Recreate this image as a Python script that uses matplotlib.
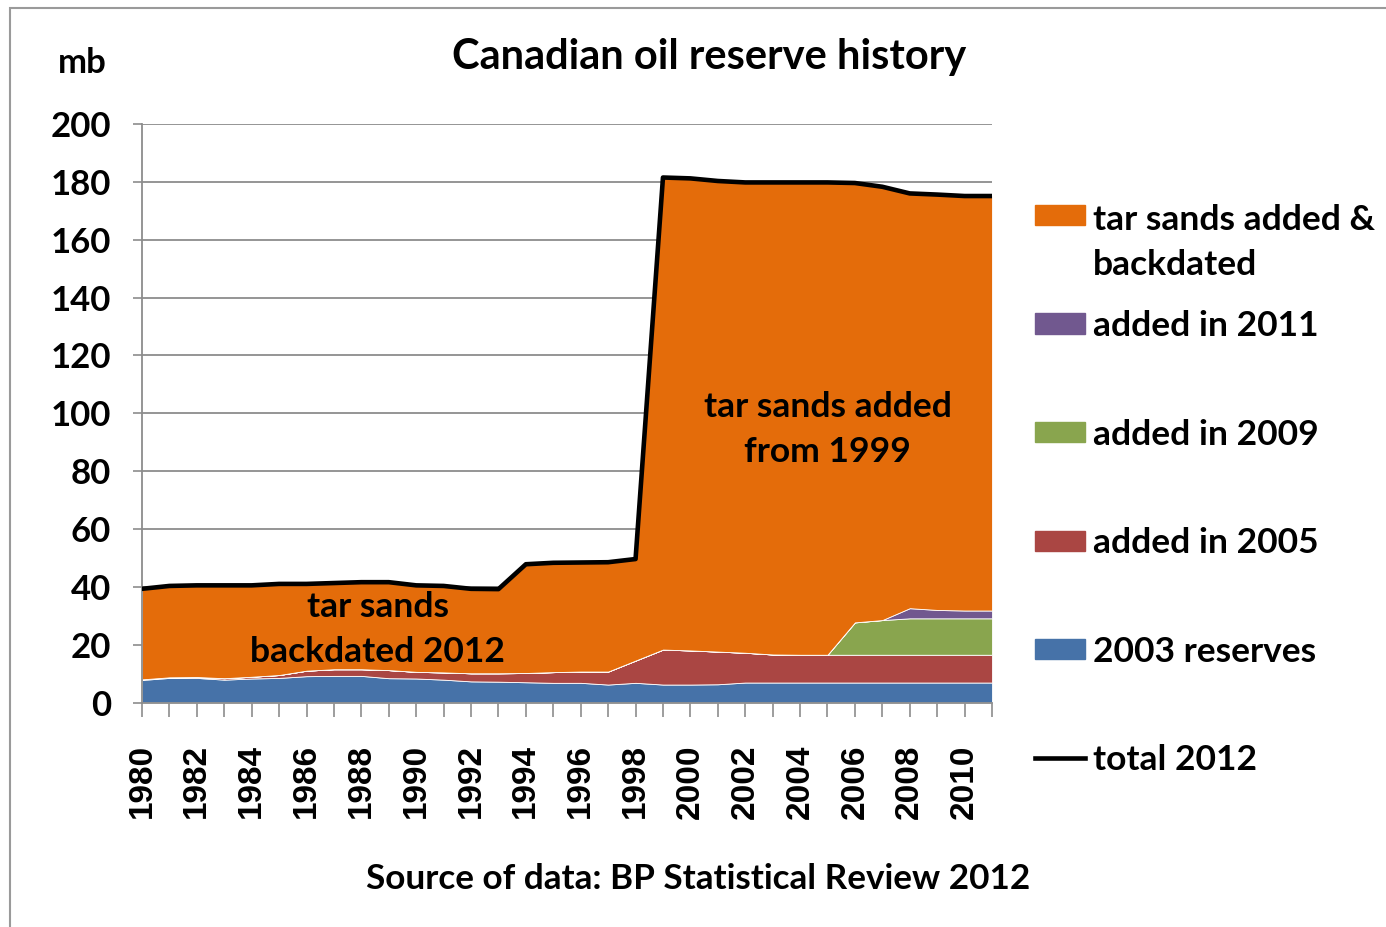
import matplotlib
matplotlib.use("Agg")
import matplotlib.pyplot as plt
from matplotlib.patches import Rectangle
from matplotlib.lines import Line2D

years = list(range(1980, 2012))

# 2003 reserves (mb)
reserves_2003 = [7.8, 8.5, 8.5, 7.9, 8.3, 8.5, 9.1, 9.2, 9.2, 8.4, 8.3, 7.9, 7.3, 7.2, 7.0, 6.8,
                 6.8, 6.2, 6.8, 6.2, 6.2, 6.3, 6.9, 6.9, 6.9, 6.9, 6.9, 6.9, 6.9, 6.9, 6.9, 6.9]
added_2005 = [0.2, 0.2, 0.3, 0.5, 0.6, 1.0, 1.9, 2.3, 2.3, 2.8, 2.3, 2.5, 2.8, 2.9, 3.2, 3.7,
              3.9, 4.5, 7.7, 12.1, 11.8, 11.3, 10.3, 9.7, 9.6, 9.6, 9.6, 9.6, 9.6, 9.6, 9.6, 9.6]
added_2009 = [0] * 25 + [0.0, 11.2, 12.0, 12.6, 12.6, 12.6, 12.6]
added_2011 = [0] * 27 + [0.0, 3.5, 2.9, 2.7, 2.7]
total_2012 = [39.3, 40.3, 40.5, 40.5, 40.5, 41.0, 41.0, 41.3, 41.6, 41.6, 40.5, 40.3, 39.3, 39.2,
              47.8, 48.3, 48.4, 48.5, 49.6, 181.5, 181.2, 180.3, 179.8, 179.8, 179.8, 179.8,
              179.6, 178.3, 176.0, 175.6, 175.1, 175.1]
tar_sands = [t - a - b - c - d for t, a, b, c, d in
             zip(total_2012, reserves_2003, added_2005, added_2009, added_2011)]

series_labels = ["2003 reserves", "added in 2005", "added in 2009", "added in 2011",
                 "tar sands added &\nbackdated"]
series_colors = ["#4672A8", "#AA4643", "#89A54E", "#71588F", "#E46C0A"]

plt.rcParams["font.family"] = ["Lato", "DejaVu Sans"]
plt.rcParams["font.weight"] = "bold"

fig = plt.figure(figsize=(13.86, 9.27), dpi=100)
W, H = 1386.0, 927.0
ax = fig.add_axes([142 / W, 1 - 702.5 / H, 850 / W, (702.5 - 124) / H])

ax.stackplot(years, reserves_2003, added_2005, added_2009, added_2011, tar_sands,
             colors=series_colors, edgecolor="white", linewidth=0.6, zorder=2)
ax.plot(years, total_2012, color="black", lw=3.3, solid_joinstyle="round", zorder=3)

ax.set_xlim(1980, 2011)
ax.set_ylim(0, 200)
ax.set_yticks(range(0, 201, 20))
ax.set_xticks(years)
ax.set_xticklabels([str(y) if y % 2 == 0 else "" for y in years], rotation=90,
                   family=["Liberation Sans"], fontsize=24, fontweight="bold")
ax.tick_params(axis="y", labelsize=25, length=6.5, width=1.2, color="#8c8c8c", pad=16)
ax.tick_params(axis="x", length=10, width=1.2, color="#8c8c8c", pad=20)
ax.yaxis.grid(True, color="#8c8c8c", lw=1.3)
ax.set_axisbelow(True)
for side in ("top", "right"):
    ax.spines[side].set_visible(False)
for side in ("left", "bottom"):
    ax.spines[side].set_color("#8c8c8c")
    ax.spines[side].set_linewidth(1.3)

ax.text(2005.0, 94.3, "tar sands added\nfrom 1999", ha="center", va="center",
        fontsize=25.5, fontweight="bold", linespacing=1.5, zorder=4)
ax.text(1988.6, 25.2, "tar sands\nbackdated 2012", ha="center", va="center",
        fontsize=25.5, fontweight="bold", linespacing=1.5, zorder=4)

fig.text(709 / W, 1 - 57 / H, "Canadian oil reserve history", ha="center", va="center",
         fontsize=30, fontweight="bold")
fig.text(82 / W, 1 - 63 / H, "mb", ha="center", va="center", fontsize=25, fontweight="bold")
fig.text(698 / W, 1 - 879 / H, "Source of data: BP Statistical Review 2012", ha="center",
         va="center", fontsize=25.3, fontweight="bold")

# legend drawn by hand: top entry first
leg_fs = 25.5
leg_px = leg_fs * 100 / 72
legend_order = [4, 3, 2, 1, 0]
for i, idx in enumerate(legend_order):
    yc = 215 + i * 108.5
    label = series_labels[idx]
    extra = label.count("\n") * 47
    fig.patches.append(Rectangle((1035 / W, 1 - (yc + 10) / H), 50 / W, 20 / H,
                                 transform=fig.transFigure, color=series_colors[idx]))
    fig.text(1093 / W, 1 - (yc + 0.36 * leg_px + extra) / H, label, ha="left",
             va="baseline", fontsize=leg_fs, fontweight="bold", linespacing=1.5)
yc = 215 + 5 * 108.5
fig.lines.append(Line2D([1035 / W, 1085 / W], [1 - yc / H, 1 - yc / H],
                        transform=fig.transFigure, color="black", lw=3.3))
fig.text(1093 / W, 1 - (yc + 0.36 * leg_px) / H, "total 2012", ha="left", va="baseline",
         fontsize=leg_fs, fontweight="bold")

# chart frame
fig.patches.append(Rectangle((10 / W, -0.1), 1.2, 1.1 - 8 / H, transform=fig.transFigure,
                             fill=False, edgecolor="#9a9a9a", lw=1.5))

fig.savefig("out.png", dpi=100)
